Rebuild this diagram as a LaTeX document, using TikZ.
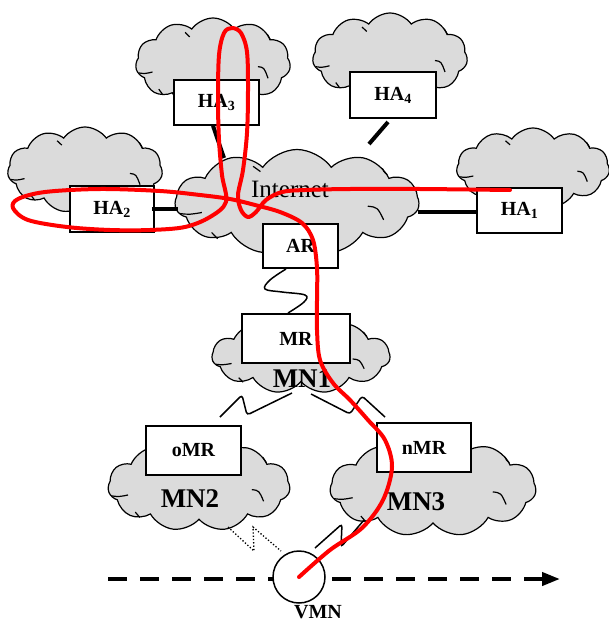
\documentclass[tikz,border=0pt]{standalone}
\usepackage{fontspec}
\setmainfont{Liberation Serif}
\usetikzlibrary{shapes.symbols,arrows.meta,calc}
\newcommand\cloudcreases[3]{%
  \begin{scope}[shift={(#1.center)}, x=#2pt, y=-#3pt, shift={(-0.5,-0.5)}, line width=1.2pt]
    \draw (0.02,0.61) .. controls (0.06,0.62) .. (0.11,0.60);
    \draw (0.79,0.54) .. controls (0.83,0.55) .. (0.855,0.67);
    \draw (0.85,0.18) .. controls (0.855,0.21) .. (0.87,0.24);
    \draw (0.32,0.16) .. controls (0.335,0.18) .. (0.35,0.21);
    \draw (0.15,0.79) .. controls (0.16,0.82) .. (0.175,0.85);
  \end{scope}}
\begin{document}
\begin{tikzpicture}[x=1pt,y=-1pt,
  cloudnet/.style={cloud, cloud puffs=11, cloud puff arc=110, cloud ignores aspect, draw=black, line width=1.2pt, fill=gray!28, inner sep=0pt},
  router/.style={draw=black, line width=1.5pt, fill=white, inner sep=0pt, font=\fontsize{20}{24}\selectfont\bfseries},
  netlabel/.style={font=\fontsize{27}{30}\selectfont\bfseries, inner sep=0pt, anchor=base},
  wire/.style={line width=4pt},
  radio/.style={line width=1.5pt, rounded corners=3pt},
  route/.style={red, line width=4pt, line cap=round, line join=round}
]
\useasboundingbox (0,0) rectangle (609,621);

% clouds
\node[cloudnet, minimum width=155pt, minimum height=90pt] (c3) at (213,63) {};
\node[cloudnet, minimum width=155pt, minimum height=88pt] (c4) at (390,57) {};
\node[cloudnet, minimum width=155pt, minimum height=86pt] (c2) at (85,170) {};
\node[cloudnet, minimum width=153pt, minimum height=80pt] (c1) at (533,168) {};
\node[cloudnet, minimum width=244pt, minimum height=105pt] (inet) at (297,202) {};
\node[cloudnet, minimum width=178pt, minimum height=75pt] (mn1) at (301,356) {};
\node[cloudnet, minimum width=182pt, minimum height=90pt] (mn2) at (199,486) {};
\node[cloudnet, minimum width=206pt, minimum height=97pt] (mn3) at (433,488) {};
\cloudcreases{c3}{155}{90}
\cloudcreases{c4}{155}{88}
\cloudcreases{c2}{155}{86}
\cloudcreases{c1}{153}{80}
\cloudcreases{inet}{244}{105}
\cloudcreases{mn1}{178}{75}
\cloudcreases{mn2}{182}{90}
\cloudcreases{mn3}{206}{97}

% boxes
\node[router, minimum width=85pt, minimum height=45pt] (ha3) at (216.5,102.5) {HA\textsubscript{3}};
\node[router, minimum width=86pt, minimum height=46pt] (ha4) at (393,95) {HA\textsubscript{4}};
\node[router, minimum width=84pt, minimum height=46pt] (ha2) at (112,209) {HA\textsubscript{2}};
\node[router, minimum width=85pt, minimum height=45pt] (ha1) at (519.5,210.5) {HA\textsubscript{1}};
\node[router, minimum width=75pt, minimum height=44pt] (ar) at (300.5,246) {AR};
\node[router, minimum width=108pt, minimum height=49pt] (mr) at (296,338.5) {MR};
\node[router, minimum width=95pt, minimum height=49pt] (omr) at (193.5,450.5) {oMR};
\node[router, minimum width=94pt, minimum height=49pt] (nmr) at (424,447.5) {nMR};

% labels
\node[font=\fontsize{25}{30}\selectfont, inner sep=0pt, anchor=base] (inetlabel) at (290,197) {Internet};
\node[netlabel] (mn1label) at (302,387) {MN1};
\node[netlabel] (mn2label) at (190,507) {MN2};
\node[netlabel] (mn3label) at (416,510) {MN3};

% wired links
\coordinate (l3b) at (224,158);
\draw[wire] ([xshift=-3.5pt]ha3.south) -- (l3b);
\coordinate (l4a) at (388,122);
\coordinate (l4b) at (369,144);
\draw[wire] (l4a) -- (l4b);
\coordinate (l2b) at (178,209);
\draw[wire] ([xshift=-3pt]ha2.east) -- (l2b);
\coordinate (l1a) at (418,211.5);
\draw[wire] (l1a) -- (ha1.west |- l1a);

% wireless links
\draw[line width=1.5pt] plot[smooth, tension=0.6] coordinates {(286,269) (270,280) (265,289) (282,292) (305,295) (304,302) (288,313)};
\coordinate (w1a) at (220,417);
\coordinate (w1b) at (292,393);
\draw[radio] (w1a) -- (242,395) -- (247,415) -- (w1b);
\coordinate (w2a) at (311,394);
\coordinate (w2b) at (385,417);
\draw[radio] (w2a) -- (350,414) -- (362,396) -- (w2b);
\coordinate (w3a) at (228,527);
\coordinate (w3b) at (281,551);
\draw[line width=1.3pt, dotted] (w3a) -- (254,551) -- (253,527) -- (w3b);
\coordinate (w4a) at (315,548);
\coordinate (w4b) at (364,520);
\draw[radio] (w4a) -- (342,524) -- (341,547) -- (w4b);

% movement
\coordinate (mvs) at (108,579);
\coordinate (mve) at (560,579);
\draw[line width=4pt, dash pattern=on 19pt off 13pt, -{Triangle[length=18pt,width=13pt]}] (mvs) -- (mve);
\node[circle, draw=black, line width=1.5pt, fill=white, minimum size=52pt, inner sep=0pt] (vmn) at (299,577) {};
\node[font=\fontsize{20}{24}\selectfont\bfseries, inner sep=0pt, anchor=base] (vmnlabel) at (318,618) {VMN};

% route
\coordinate (rend) at (510,190);
\draw[route] plot[smooth, tension=0.55] coordinates {(vmn.center) (330,550) (362,528) (383,500) (392,467) (385,440) (368,420) (350,400) (333,383) (320,360) (317,330) (317,300) (317,268) (313,240) (302,223) (280,212) (255,205) (230,199) (200,195) (160,191) (100,189) (45,192) (18,199) (13,208) (28,220) (67,227) (110,230) (150,230) (185,227) (210,217) (226,202) (222,175) (219,140) (218,100) (219,55) (224,33) (232,28) (241,33) (247,52) (248,90) (247,133) (243,170) (238,195) (241,210) (248,217) (256,212) (266,200) (282,192) (305,190) (350,189) (420,189) (rend)};
\end{tikzpicture}
\end{document}
